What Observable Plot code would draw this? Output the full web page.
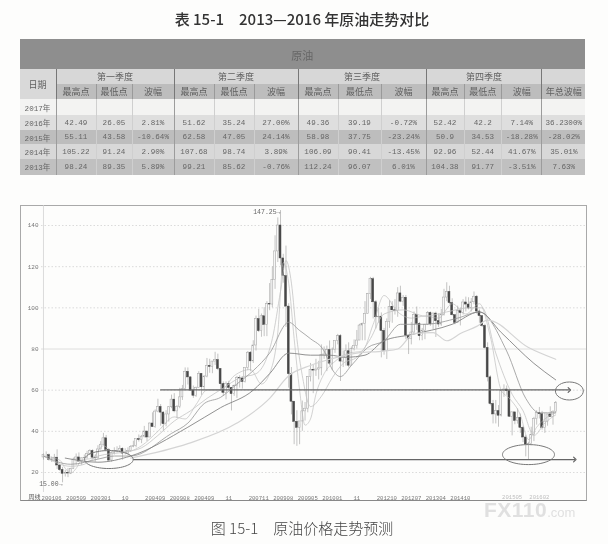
<!DOCTYPE html>
<html><head><meta charset="utf-8">
<script src="https://cdn.jsdelivr.net/npm/d3@7"></script>
<script src="https://cdn.jsdelivr.net/npm/@observablehq/plot@0.6"></script>
<style>
html,body{margin:0;padding:0;background:#fdfdfc;width:608px;height:544px;overflow:hidden}
#page{position:relative;width:608px;height:544px;overflow:hidden;filter:blur(.55px)}
.abs{position:absolute}
#title{left:0;width:608px;top:9px;text-align:center;margin-left:-2px;font:500 15px "Noto Sans CJK SC",sans-serif;color:#333;line-height:20px;white-space:pre}
#caption{left:0;width:608px;top:518px;text-align:center;margin-left:-2px;font:300 15px "Noto Sans CJK SC",sans-serif;color:#444;line-height:20px;white-space:pre}
#wm{left:484px;top:498px;font:700 21px "Liberation Sans",sans-serif;color:#e0e0e0;letter-spacing:.5px;white-space:nowrap}
#wm span{font-weight:400;font-size:13px;letter-spacing:0}
#frame{left:20px;top:205px;width:565px;height:294px;border:1px solid #a9a9a9;box-sizing:content-box;border-bottom-color:#888}
table{position:absolute;left:19.5px;top:38.5px;width:565.5px;border-collapse:collapse;table-layout:fixed;font:7.6px "Liberation Mono","Noto Sans CJK SC",monospace;color:#666}
td{padding:0;text-align:center;overflow:hidden;white-space:nowrap;border:0}
td.cjk{font:9px "Noto Sans CJK SC",sans-serif;color:#5f5f5f}
</style></head><body>
<div id="page">
<div id="title" class="abs">表 15-1　2013—2016 年原油走势对比</div>
<table id="tbl"></table>
<div id="frame" class="abs"></div>
<div id="chart"></div>
<div id="wm" class="abs">FX110<span>.com</span></div>
<div id="caption" class="abs">图 15-1　原油价格走势预测</div>
</div>
<script>
// ---------- table ----------
const tableHeader = "原油";
const quarterNames = ["第一季度","第二季度","第三季度","第四季度"];
const subNames = ["最高点","最低点","波幅"];
const colEdges = [19.5,56,96,132,174,214,254,298,338,381,426,464,501.6,542,585];
const row2017 = ["2017年","","","","","","","","","","","","",""];
const row2016 = ["2016年","42.49","26.05","2.81%","51.62","35.24","27.00%","49.36","39.19","-0.72%","52.42","42.2","7.14%","36.2300%"];
const row2015 = ["2015年","55.11","43.58","-10.64%","62.58","47.05","24.14%","58.98","37.75","-23.24%","50.9","34.53","-18.28%","-28.02%"];
const row2014 = ["2014年","105.22","91.24","2.90%","107.68","98.74","3.89%","106.09","90.41","-13.45%","92.96","52.44","41.67%","35.01%"];
const row2013 = ["2013年","98.24","89.35","5.89%","99.21","85.62","-0.76%","112.24","96.07","6.01%","104.38","91.77","-3.51%","7.63%"];
const dataRows = [[row2017,"#f3f3f2",16],[row2016,"#dedede",15],[row2015,"#bdbdbd",14],[row2014,"#d8d8d8",14.5],[row2013,"#c0c0c0",16.3]];
const isQ = i => i===1||i===4||i===7||i===10||i===13;
{
  const t = document.getElementById("tbl");
  let h = "<colgroup>";
  for (let i=1;i<colEdges.length;i++) h += `<col style="width:${colEdges[i]-colEdges[i-1]}px">`;
  h += "</colgroup>";
  h += `<tr style="height:30.5px;background:#8e8e8e"><td class="cjk" colspan="14" style="font-size:11px;color:#666;padding-top:2px">${tableHeader}</td></tr>`;
  h += `<tr style="height:15.3px;background:#d7d7d7"><td class="cjk" rowspan="2" style="background:#d9d9d9;color:#5f5f5f">日期</td>`;
  quarterNames.forEach(q=>{h += `<td class="cjk" colspan="3" style="border-left:1px solid #777">${q}</td>`;});
  h += `<td style="border-left:1px solid #777"></td></tr>`;
  h += `<tr style="height:15px;background:#bdbdbd">`;
  for (let k=0;k<4;k++) subNames.forEach((s,j)=>{h += `<td class="cjk" style="border-left:1px solid ${j===0?"#777":"#9a9a9a"}">${s}</td>`;});
  h += `<td class="cjk" style="border-left:1px solid #777">年总波幅</td></tr>`;
  dataRows.forEach(([r,bg,ht])=>{
    h += `<tr style="height:${ht}px;background:${bg}">`;
    r.forEach((v,i)=>{
      const b = i===0?"":`border-left:1px solid ${isQ(i)?"#9c9c9c":"#cfcfcf"};`;
      h += `<td style="${b}">${v}</td>`;
    });
    h += "</tr>";
  });
  t.innerHTML = h;
}

// ---------- chart data: monthly candles, 2001-04 onward ----------
const opens = [27.3,28.4,28.4,26.2,26.3,27.2,23.4,21.2,19.4,19.8,19.5,21.7,26.3,27.3,25.3,26.9,27,28.9,30.4,27.2,26.9,31.2,33.5,36.6,31,25.8,29.5,30.2,30.5,31.5,29.2,29.2,30.4,32.5,33,36.2,35.8,37.4,39.9,37,43.8,42.1,49.6,51.8,49.1,43.5,48.2,51.7,55.4,49.7,51.9,56.5,60.6,68.9,66.2,59.8,57.3,61,67.9,61.4,66.6,71.8,71.3,73.9,74.6,70.3,62.9,58.7,63.1,61.1,58.1,62,65.9,65.7,64,70.7,78.2,74,81.7,94.5,88.7,95.9,91.7,101.8,101.6,113.5,127.4,140,124,115.4,100.6,67.8,54.4,44.6,41.7,44.8,49.7,51,66.3,69.9,69.5,70,70.6,77,77.3,79.4,72.9,79.7,83.8,86.2,73.9,75.6,78.9,71.9,79.9,81.4,84.1,91.4,92.2,97,106.7,113.9,102.7,95.4,95.7,88.8,79.2,93.2,100.4,98.8,98.5,107,103,104.9,86.5,84.9,88,96.5,92.2,86.2,88.9,91.8,97.5,92,97.2,93.5,91.9,96.6,105,107.7,102.3,96.4,92.7,98.4,97.5,102.6,101.6,99.7,102.7,105.4,98.2,96,91.2,80.5,66.2,53.3,48.2,49.8,47.6,59.6,60.3,59.5,47.1,49.2,45.1,46.6,41.7,37,33.6,33.8,38.3,45.9,49,48.3,41.6,44.7,48.2,46.9,49.4];
const highs = [29,30,29,27.5,28.8,31,23.9,22.5,21,22,22,27,29,29.5,27,28.5,30.3,31,31,28.5,33,35,39,38,31.5,30,32,32.5,33,32,31.5,32,33,35.2,36,38.2,38,42.4,40,44,49,50.4,55.6,53,49.5,50,52,57.6,58.3,52.5,60.9,62.3,70.8,70.8,66.5,62,61.5,69,68,67,75.4,75,73.9,78.4,77.5,70.4,64,64,64.3,61.1,62.5,66.7,67,66.5,70.7,78.8,78.8,84,96,99.3,97,100.1,103,111.8,119.9,135,143.7,147.25,126,130,102,71,54.4,50,43.5,54.7,54,66.5,73,72,75,74,82,81,81.4,83.9,80.5,83.8,87.1,87,79,82,83,81,84.4,89,92,92.6,103,107,114.8,114.8,103.5,99.7,97.5,90,94.6,103.4,103,104,109.8,110.5,106,106,86.5,92.9,98,100.4,92.9,90,92,98.2,98,97.5,97.9,97,99.2,109,112.2,110.5,104.4,96.4,100.8,100,104,105.2,104.9,104.5,107.7,106,99,96,92,83,67,55,55,52.5,59.6,62.6,62,60,49.5,49.2,50.9,48.4,42.5,38,34.7,42,46.8,50,51.6,49.7,48.7,48.3,51.9,50,54.5];
const lows = [26,27.5,25.5,24.9,25.7,21.5,20.5,15,17.8,17.5,19,21.5,23.5,25.3,23.5,26,26.5,28.5,26.5,25,26.5,31,33,30,25,25,28.5,29.5,30,26,28.5,28.5,29.8,32,32,34.8,34,36.8,35,37,42,41.5,49,42.5,40,42.2,44.5,51,49,46.2,51,55,60,62.5,59.5,56,56.5,61,57.5,59.5,66,68.2,68,72,69.5,59.5,57,55.3,60,49.9,57,56,61,60.5,63.5,69.5,69,73,79,88,85.7,86,86,98.6,100,109,122,120.4,112,90.5,61,48,33.5,32.7,33.5,40,45,49,64,58.3,66.7,65,67,75,69,72.4,69.5,77.9,82,64.2,71,71.7,70.8,71.9,79,80,84.1,84,84,97,104,94.6,89.7,92.5,75.7,77,74.9,90,92.5,96.5,95.4,102.5,100.7,84.5,77.3,82,87,89,84,84,84.5,91.4,91,89.4,85.6,90.5,91,96,103,101.5,96,91.8,92.5,91.2,96.5,98,99,98,101.5,97,92.5,90.5,80,64,52.4,43.6,43.6,42,47,56.5,57.5,46.7,37.8,43.2,43.5,39,34.5,27.6,26,33,35,43,46,40.6,39,42.5,46.9,43,49];
const closes = [28.5,28.4,26.2,26.3,27.2,23.4,21.2,19.4,19.8,19.5,21.7,26.3,27.3,25.3,26.9,27,28.9,30.4,27.2,26.9,31.2,33.5,36.6,31,25.8,29.5,30.2,30.5,31.5,29.2,29.2,30.4,32.5,33,36.2,35.8,37.4,39.9,37,43.8,42.1,49.6,51.8,49.1,43.5,48.2,51.7,55.4,49.7,51.9,56.5,60.6,68.9,66.2,59.8,57.3,61,67.9,61.4,66.6,71.8,71.3,73.9,74.6,70.3,62.9,58.7,63.1,61.1,58.1,62,65.9,65.7,64,70.7,78.2,74,81.7,94.5,88.7,95.9,91.7,101.8,101.6,113.5,127.4,140,124,115.4,100.6,67.8,54.4,44.6,41.7,44.8,49.7,51,66.3,69.9,69.5,70,70.6,77,77.3,79.4,72.9,79.7,83.8,86.2,73.9,75.6,78.9,71.9,79.9,81.4,84.1,91.4,92.2,97,106.7,113.9,102.7,95.4,95.7,88.8,79.2,93.2,100.4,98.8,98.5,107,103,104.9,86.5,84.9,88,96.5,92.2,86.2,88.9,91.8,97.5,92,97.2,93.5,91.9,96.6,105,107.7,102.3,96.4,92.7,98.4,97.5,102.6,101.6,99.7,102.7,105.4,98.2,96,91.2,80.5,66.2,53.3,48.2,49.8,47.6,59.6,60.3,59.5,47.1,49.2,45.1,46.6,41.7,37,33.6,33.8,38.3,45.9,49,48.3,41.6,44.7,48.2,46.9,49.4,53.7];

const months = [];
for (let y=2001,m=4; months.length<197; m++) { if (m>12){m=1;y++;} months.push(String(y)+String(m).padStart(2,"0")); }
const candles = closes.map((c,i)=>({m:months[i],o:opens[i],h:highs[i],l:lows[i],c,up:c>=opens[i]}));

// moving averages: [month index, value]
const ma5 = [[0,28],[6,26],[8,22],[10,19.7],[12,22],[14,26],[18,27],[22,33],[25,30.5],[30,30],[36,33],[42,40],[48,47],[52,46],[56,53],[60,60],[65,60],[70,67],[76,70],[80,63],[84,72],[86,88],[88,122],[90,112],[92,85],[94,60],[96,43],[98,46],[100,58],[103,68],[107,74],[112,78],[117,79],[121,92],[125,106],[130,98],[135,95],[140,96],[145,95],[150,102],[155,97],[160,102],[164,86],[168,60],[171,56],[175,48],[178,36],[181,42],[185,47],[188,49]];
const ma10 = [[0,28],[10,23],[15,24],[20,28],[30,30],[36,32],[42,38],[48,45],[54,50],[60,56],[66,61],[72,66],[78,68],[84,85],[87,108],[89,123],[91,112],[93,85],[95,67],[98,52],[102,57],[106,66],[110,73],[115,76],[120,85],[125,97],[132,99],[140,96],[148,98],[156,100],[161,100],[166,78],[172,58],[176,50],[180,38],[184,44],[188,48]];
const ma20 = [[0,28],[10,24],[20,26.5],[26,28],[32,28],[47,39],[53,44],[59,53.5],[65,56.5],[71,63],[77,69.5],[83,78],[90,93],[94,89],[98,85],[103,79],[106,70],[109,66.6],[113,72],[119,80.7],[125,84],[131,92],[140,92],[152,95],[160,98],[170,79],[177,56],[182,49],[188,49]];
const ma40 = [[8,27],[20,25],[32,28],[53,42],[65,51.5],[77,60],[83,68],[90,78],[98,77],[105,77],[111,76],[118,77],[125,84],[135,87],[150,92],[160,98],[168,88],[180,73],[188,65]];
const ma60 = [[32,27],[53,34],[71,44],[83,56],[90,67],[98,72],[105,75],[115,78],[125,79],[130,80],[136,87.5],[143,88],[148,84],[153,87.5],[159,91],[163,94],[178,80.7],[188,75]];
const maSeries = [[ma5,"#b5b5b5",.6],[ma10,"#c4c4c4",.8],[ma20,"#969696",.8],[ma40,"#858585",.9],[ma60,"#d4d4d4",1.2]];

const yTicks = [20,40,60,80,100,120,140];
const dottedGrid = [20,40,60,100,120,140];
const solidGrid = [80];
const upperLevel = 60.1, lowerLevel = 26.3;
const upperSpan = [43,193], lowerSpan = [33,195];
const axisMonths = [3,12,21,30,41,50,59,68,79,88,97,106,115,126,135,144,153];
const axisText = ["200106","200509","200301","10","200409","200908","200409","11","200711","200908","200905","201001","11","201210","201207","201304","201410"];
const faintMonths = [172,182];
const faintText = ["201505","201602"];
const rings = [[23.5,26.3,9,2.7],[193.4,59.6,9,1.55],[178,28.7,10,2.6]];

const ell = a => ({draw(ctx,size){
  const ry=Math.sqrt(size/Math.PI), rx=ry*a, k=.5523;
  ctx.moveTo(-rx,0);
  ctx.bezierCurveTo(-rx,-ry*k,-rx*k,-ry,0,-ry);
  ctx.bezierCurveTo(rx*k,-ry,rx,-ry*k,rx,0);
  ctx.bezierCurveTo(rx,ry*k,rx*k,ry,0,ry);
  ctx.bezierCurveTo(-rx*k,ry,-rx,ry*k,-rx,0);
  ctx.closePath();
}});
const tickLabel = new Map(axisMonths.map((i,k)=>[months[i],axisText[k]]));

const plot = Plot.plot({
  width:608, height:305,
  marginLeft:41, marginRight:22, marginTop:5, marginBottom:13,
  style:{position:"absolute",left:"0",top:"200px",background:"transparent",fontFamily:"'Liberation Mono',monospace",overflow:"visible"},
  x:{type:"band",domain:months,range:[41.2,578.8],padding:.3,axis:null},
  y:{domain:[20,140],range:[272,25],axis:null},
  marks:[
    Plot.ruleY(dottedGrid,{stroke:"#d2d2d2",strokeWidth:.8,strokeDasharray:"1.5,2"}),
    Plot.ruleY(solidGrid,{stroke:"#d6d6d6",strokeWidth:.8}),
    Plot.ruleX([months[0]],{stroke:"#d2d2d2",strokeWidth:.8}),
    Plot.axisY(yTicks,{anchor:"left",tickSize:0,tickPadding:3,fontSize:6,fill:"#777",label:null}),
    Plot.axisX(axisMonths.map(i=>months[i]),{anchor:"bottom",tickSize:0,tickPadding:4,fontSize:5.6,fill:"#777",label:null,tickFormat:d=>tickLabel.get(d),tickRotate:0}),
    Plot.text(faintMonths.map((i,k)=>({m:months[i],t:faintText[k]})),{x:"m",frameAnchor:"bottom",dy:6,text:"t",fontSize:5.6,fill:"#bdbdbd"}),
    Plot.text(["周线"],{x:()=>months[0],frameAnchor:"bottom",dy:6,dx:-9,fontSize:6,fill:"#555",fontFamily:"'Noto Sans CJK SC'"}),
    Plot.ruleX(candles,{x:"m",y1:"l",y2:"h",stroke:"#8a8a8a",strokeWidth:.5}),
    Plot.barY(candles,{x:"m",y1:"o",y2:"c",fill:d=>d.up?"#f6f6f6":"#474747",stroke:d=>d.up?"#a2a2a2":"#474747",strokeWidth:.5}),
    ...maSeries.map(([s,c,w])=>Plot.line(s,{x:d=>months[d[0]],y:d=>d[1],stroke:c,strokeWidth:w,curve:"monotone-x"})),
    Plot.line(upperSpan,{x:i=>months[i],y:()=>upperLevel,stroke:"#666",strokeWidth:1.2,markerEnd:"arrow"}),
    Plot.line(lowerSpan,{x:i=>months[i],y:()=>lowerLevel,stroke:"#666",strokeWidth:1.2,markerEnd:"arrow"}),
    ...rings.map(([i,v,r,a])=>Plot.dot([{m:months[Math.round(i)],v}],{x:"m",y:"v",r,symbol:ell(a),fill:"none",stroke:"#777",strokeWidth:1})),
    Plot.text([{m:months[87],v:147.25,t:"147.25→"}],{x:"m",y:"v",text:"t",textAnchor:"end",dy:1,fontSize:6.5,fill:"#666"}),
    Plot.text([{m:months[7],v:15,t:"15.00→"}],{x:"m",y:"v",text:"t",textAnchor:"end",dy:1,fontSize:6.5,fill:"#666"})
  ]
});
document.getElementById("chart").appendChild(plot);
</script>
</body></html>
